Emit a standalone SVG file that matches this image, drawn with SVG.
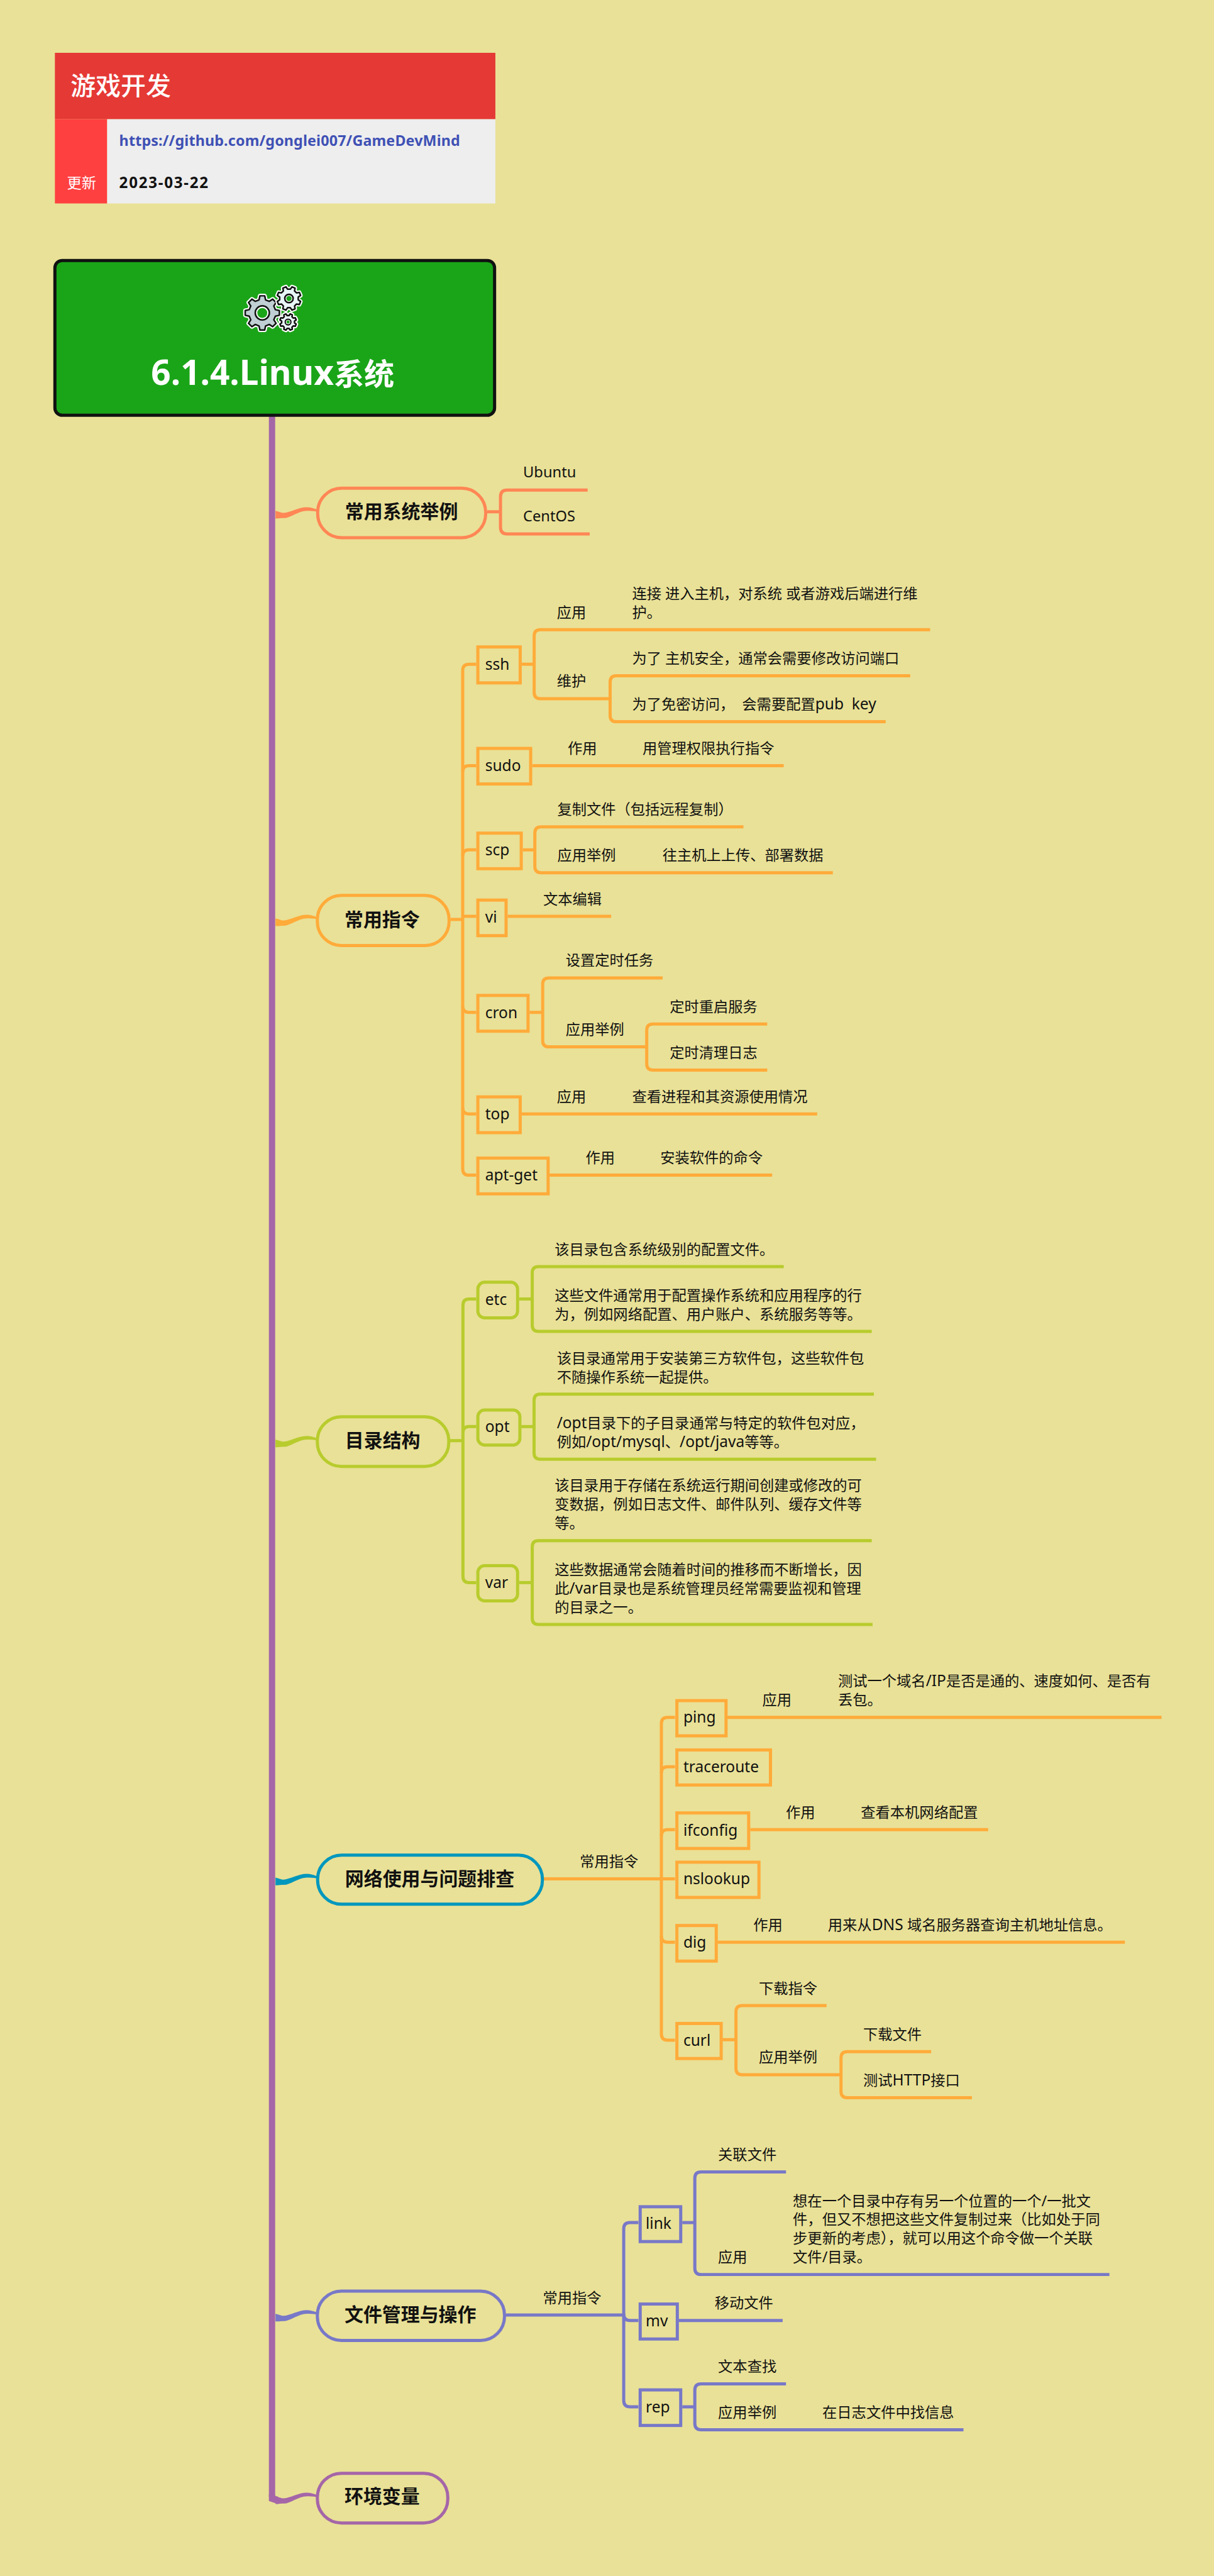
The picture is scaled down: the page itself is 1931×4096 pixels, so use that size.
<svg xmlns="http://www.w3.org/2000/svg" xmlns:xlink="http://www.w3.org/1999/xlink" width="1931" height="4096" viewBox="0 0 1931 4096">
<style>
text{font-family:"Noto Sans","Noto Sans CJK SC",sans-serif;white-space:pre}
.t{font-size:28px;fill:#111}
.k{font-size:29.5px;fill:#111}
.lat{font-size:29.5px}
.h{font-size:36px;font-weight:700;fill:#111}
.l{fill:none;stroke-width:6}
.box{fill:none;stroke-width:6}
.pill{fill:none;stroke-width:6}
.c1{stroke:#FF8655}.c2{stroke:#FFAB3A}.c3{stroke:#B8CC2D}.c4{stroke:#0097BD}.c5{stroke:#7878C8}.c6{stroke:#A566A8}
.f1{fill:#FF8655}.f2{fill:#FFAB3A}.f3{fill:#B8CC2D}.f4{fill:#0097BD}.f5{fill:#7878C8}.f6{fill:#A566A8}
.halo{fill:#fff;stroke:#fff;stroke-linejoin:round}
.gear{stroke:#111;stroke-linejoin:round}
</style>
<defs>
<path id="wave" d="M0,3C6,4.5 12,7.5 16,7C28,6 44,-4 60,-4C66,-4 72,-2 78,0L78,4.3C72,3 66,3 60,3C44,3 28,17 16,17C10,17 6,18 0,17.7Z"/>
<path id="cog" d="M75.7,-18.9L99,-13.9L99,13.9L75.7,18.9L66.9,40.2L79.9,60.2L60.2,79.9L40.2,66.9L18.9,75.7L13.9,99L-13.9,99L-18.9,75.7L-40.2,66.9L-60.2,79.9L-79.9,60.2L-66.9,40.2L-75.7,18.9L-99,13.9L-99,-13.9L-75.7,-18.9L-66.9,-40.2L-79.9,-60.2L-60.2,-79.9L-40.2,-66.9L-18.9,-75.7L-13.9,-99L13.9,-99L18.9,-75.7L40.2,-66.9L60.2,-79.9L79.9,-60.2L66.9,-40.2Z"/>
</defs>
<rect width="1931" height="4096" fill="#E9E197"/>
<g transform="scale(0.8316)">

<g id="header">
<rect x="105" y="101" width="842.5" height="127" fill="#E53935"/>
<rect x="105" y="228" width="100" height="161" fill="#FF4040"/>
<rect x="205" y="228" width="742.5" height="161" fill="#EEEEEE"/>
<text x="135" y="182" font-size="48" font-weight="500" fill="#fff">游戏开发</text>
<text x="228" y="279" font-size="28" font-weight="700" fill="#3F51B5" textLength="652">https://github.com/gonglei007/GameDevMind</text>
<text x="128" y="359" font-size="28" fill="#fff">更新</text>
<text x="228" y="359" font-size="29" font-weight="700" fill="#111" textLength="170">2023-03-22</text>
</g>

<g id="connectors">
<rect x="514.3" y="794" width="12" height="3980" class="f6"/>
<path class="f6" d="M514.3,4770H526.3V4772L532,4774L532,4788L514.3,4782Z"/>
<use xlink:href="#wave" x="527" y="973.7" class="f1"/>
<use xlink:href="#wave" x="527" y="1753" class="f2"/>
<use xlink:href="#wave" x="527" y="2749.5" class="f3"/>
<use xlink:href="#wave" x="527" y="3587" class="f4"/>
<use xlink:href="#wave" x="527" y="4421" class="f5"/>
<use xlink:href="#wave" x="527" y="4770" class="f6"/>

<path class="l c1" d="M932,978.5H957.3M1124,937H970Q957.3,937 957.3,949.7V1008Q957.3,1021 970,1021H1128"/>

<g class="l c2">
<path d="M862,1758H885"/>
<path d="M911,1270H897Q885,1270 885,1282V2235Q885,2247 897,2247H911"/>
<path d="M911,1464H897Q885,1464 885,1476"/>
<path d="M911,1625H897Q885,1625 885,1637"/>
<path d="M885,1752H911"/>
<path d="M911,1935.7H897Q885,1935.7 885,1923.7"/>
<path d="M911,2130H897Q885,2130 885,2118"/>
<path d="M998,1270H1021.7"/>
<path d="M1779,1204H1033.7Q1021.7,1204 1021.7,1216V1324Q1021.7,1336 1033.7,1336H1167"/>
<path d="M1741,1292H1179Q1167,1292 1167,1304V1368Q1167,1380 1179,1380H1694"/>
<path d="M1018,1464H1499"/>
<path d="M1000,1625H1023"/>
<path d="M1422,1581H1035Q1023,1581 1023,1593V1656.7Q1023,1668.7 1035,1668.7H1593"/>
<path d="M971,1752H1169"/>
<path d="M1013,1935.7H1038"/>
<path d="M1267.5,1870H1050Q1038,1870 1038,1882V1989.7Q1038,2001.7 1050,2001.7H1237"/>
<path d="M1467.5,1958H1249Q1237,1958 1237,1970V2034Q1237,2046 1249,2046H1467.5"/>
<path d="M998,2130H1563"/>
<path d="M1051,2247H1477"/>
</g>

<g class="l c3">
<path d="M861,2754.6H885.5"/>
<path d="M911,2483.7H897.5Q885.5,2483.7 885.5,2495.7V3014Q885.5,3026 897.5,3026H911"/>
<path d="M911,2727.7H897.5Q885.5,2727.7 885.5,2739.7"/>
<path d="M993,2483.7H1018"/>
<path d="M1499,2421.7H1030Q1018,2421.7 1018,2433.7V2533.7Q1018,2545.7 1030,2545.7H1667.4"/>
<path d="M997,2727.7H1021.5"/>
<path d="M1671.5,2665.7H1033.5Q1021.5,2665.7 1021.5,2677.7V2778Q1021.5,2790 1033.5,2790H1675.7"/>
<path d="M993,3026H1018"/>
<path d="M1667.4,2945.8H1030Q1018,2945.8 1018,2957.8V3094Q1018,3106 1030,3106H1669"/>
</g>

<g class="l c2">
<path d="M1040,3592.6H1291"/>
<path d="M1291,3283.8H1277Q1265,3283.8 1265,3295.8V3889Q1265,3901 1277,3901H1291"/>
<path d="M1291,3378H1277Q1265,3378 1265,3390"/>
<path d="M1291,3498.5H1277Q1265,3498.5 1265,3510.5"/>
<path d="M1291,3713.7H1277Q1265,3713.7 1265,3701.7"/>
<path d="M1391,3283.8H2221.7"/>
<path d="M1435,3498.5H1890"/>
<path d="M1373,3713.7H2151.6"/>
<path d="M1382,3900H1407.7"/>
<path d="M1581,3834.8H1419.7Q1407.7,3834.8 1407.7,3846.8V3955Q1407.7,3967 1419.7,3967H1608.6"/>
<path d="M1781,3923H1620.6Q1608.6,3923 1608.6,3935V3999Q1608.6,4011 1620.6,4011H1859"/>
</g>

<g class="l c5">
<path d="M968,4426.5H1193"/>
<path d="M1221,4249.7H1205Q1193,4249.7 1193,4261.7V4590Q1193,4602 1205,4602H1221"/>
<path d="M1193,4424Q1193,4437 1205,4437H1221"/>
<path d="M1305,4249.7H1329"/>
<path d="M1503.4,4152.7H1341Q1329,4152.7 1329,4164.7V4337Q1329,4349 1341,4349H2122"/>
<path d="M1298,4436.9H1497"/>
<path d="M1305,4602H1329"/>
<path d="M1503.4,4558H1341Q1329,4558 1329,4570V4633.8Q1329,4645.8 1341,4645.8H1842.8"/>
</g>
</g>

<g id="root">
<rect x="105" y="498" width="841" height="296" rx="14" fill="#1AA518" stroke="#111" stroke-width="6"/>
<g>
<use xlink:href="#cog" transform="translate(501.7,598.3) scale(.33)" class="halo" stroke-width="24"/>
<use xlink:href="#cog" transform="translate(501.7,598.3) scale(.33)" class="gear" fill="#C0CFD3" stroke-width="9"/>
<circle cx="501.7" cy="598.3" r="13.5" fill="#fff" stroke="#111" stroke-width="3"/>
<circle cx="501.7" cy="598.3" r="9.5" fill="#1AA518"/>
<use xlink:href="#cog" transform="translate(552.7,570.7) rotate(22.5) scale(.23)" class="halo" stroke-width="34"/>
<use xlink:href="#cog" transform="translate(552.7,570.7) rotate(22.5) scale(.23)" class="gear" fill="#E9F5F7" stroke-width="13"/>
<circle cx="552.7" cy="570.7" r="8" fill="#fff" stroke="#111" stroke-width="3"/>
<circle cx="552.7" cy="570.7" r="5" fill="#1AA518"/>
<use xlink:href="#cog" transform="translate(551,615.7) rotate(22.5) scale(.16)" class="halo" stroke-width="50"/>
<use xlink:href="#cog" transform="translate(551,615.7) rotate(22.5) scale(.16)" class="gear" fill="#E9F5F7" stroke-width="19"/>
<circle cx="551" cy="615.7" r="5.5" fill="#fff" stroke="#111" stroke-width="2.5"/>
<circle cx="551" cy="615.7" r="3" fill="#1AA518"/>
</g>
<text x="289" y="736" font-size="66" font-weight="700" fill="#fff">6.1.4.Linux<tspan font-size="58">系统</tspan></text>
</g>

<g id="b1">
<rect class="pill c1" x="607.6" y="933.5" width="321.4" height="94.5" rx="46"/>
<text class="h" x="660" y="991">常用系统举例</text>
</g>
<g id="b1-ubuntu"><text class="t" x="1000.5" y="913" font-size="28.5" style="font-size:28.5px">Ubuntu</text></g>
<g id="b1-centos"><text class="t" x="1000.5" y="996.7" style="font-size:28.5px">CentOS</text></g>

<g id="b2">
<rect class="pill c2" x="607" y="1712" width="252" height="96" rx="46"/>
<text class="h" x="659" y="1771">常用指令</text>
</g>

<g id="ssh"><rect class="box c2" x="914" y="1237" width="81" height="68.7"/><text class="k" x="928" y="1280.5">ssh</text></g>
<g id="ssh-a"><text class="t" x="1065" y="1181">应用</text></g>
<g id="ssh-a1"><text class="t" x="1209" y="1145">连接 进入主机，对系统 或者游戏后端进行维<tspan x="1209" dy="36">护。</tspan></text></g>
<g id="ssh-b"><text class="t" x="1065" y="1312">维护</text></g>
<g id="ssh-b1"><text class="t" x="1209" y="1269">为了 主机安全，通常会需要修改访问端口</text></g>
<g id="ssh-b2"><text class="t" x="1209" y="1357">为了免密访问，  会需要配置<tspan class="lat">pub  key</tspan></text></g>

<g id="sudo"><rect class="box c2" x="914" y="1431" width="101" height="68"/><text class="k" x="928" y="1474">sudo</text></g>
<g id="sudo-a"><text class="t" x="1086" y="1440">作用</text></g>
<g id="sudo-a1"><text class="t" x="1229" y="1440">用管理权限执行指令</text></g>

<g id="scp"><rect class="box c2" x="914" y="1593" width="83" height="68"/><text class="k" x="928" y="1636">scp</text></g>
<g id="scp-a"><text class="t" x="1066" y="1557">复制文件（包括远程复制）</text></g>
<g id="scp-b"><text class="t" x="1066" y="1645.5">应用举例</text></g>
<g id="scp-b1"><text class="t" x="1267" y="1645.5">往主机上上传、部署数据</text></g>

<g id="vi"><rect class="box c2" x="914" y="1721" width="54" height="68"/><text class="k" x="928" y="1764">vi</text></g>
<g id="vi-a"><text class="t" x="1039" y="1729">文本编辑</text></g>

<g id="cron"><rect class="box c2" x="914" y="1903.3" width="96" height="68.4"/><text class="k" x="928" y="1946.5">cron</text></g>
<g id="cron-a"><text class="t" x="1082" y="1846">设置定时任务</text></g>
<g id="cron-b"><text class="t" x="1082" y="1978.3">应用举例</text></g>
<g id="cron-b1"><text class="t" x="1281" y="1934.3">定时重启服务</text></g>
<g id="cron-b2"><text class="t" x="1281" y="2022.3">定时清理日志</text></g>

<g id="top"><rect class="box c2" x="914" y="2097.3" width="81" height="68.4"/><text class="k" x="928" y="2140.5">top</text></g>
<g id="top-a"><text class="t" x="1065" y="2106.3">应用</text></g>
<g id="top-a1"><text class="t" x="1209" y="2106.3">查看进程和其资源使用情况</text></g>

<g id="apt-get"><rect class="box c2" x="914" y="2214.3" width="134.4" height="68.4"/><text class="k" x="928" y="2257.5">apt-get</text></g>
<g id="apt-a"><text class="t" x="1120" y="2223.3">作用</text></g>
<g id="apt-a1"><text class="t" x="1263" y="2223.3">安装软件的命令</text></g>

<g id="b3">
<rect class="pill c3" x="607" y="2709" width="251.4" height="95" rx="46"/>
<text class="h" x="660" y="2767">目录结构</text>
</g>
<g id="etc"><rect class="box c3" x="914" y="2451.7" width="76" height="68" rx="13"/><text class="k" x="928" y="2495">etc</text></g>
<g id="etc-1"><text class="t" x="1061" y="2399">该目录包含系统级别的配置文件。</text></g>
<g id="etc-2"><text class="t" x="1061" y="2487">这些文件通常用于配置操作系统和应用程序的行<tspan x="1061" dy="36">为，例如网络配置、用户账户、系统服务等等。</tspan></text></g>
<g id="opt"><rect class="box c3" x="914" y="2696" width="80.4" height="67" rx="13"/><text class="k" x="928" y="2738.5">opt</text></g>
<g id="opt-1"><text class="t" x="1065" y="2607">该目录通常用于安装第三方软件包，这些软件包<tspan x="1065" dy="36">不随操作系统一起提供。</tspan></text></g>
<g id="opt-2"><text class="t" x="1065" y="2731"><tspan class="lat">/opt</tspan>目录下的子目录通常与特定的软件包对应，<tspan x="1065" dy="36">例如</tspan><tspan class="lat">/opt/mysql</tspan>、<tspan class="lat">/opt/java</tspan>等等。</text></g>
<g id="var"><rect class="box c3" x="914" y="2993.6" width="76" height="67.4" rx="13"/><text class="k" x="928" y="3036">var</text></g>
<g id="var-1"><text class="t" x="1061" y="2850">该目录用于存储在系统运行期间创建或修改的可<tspan x="1061" dy="36">变数据，例如日志文件、邮件队列、缓存文件等</tspan><tspan x="1061" dy="36">等。</tspan></text></g>
<g id="var-2"><text class="t" x="1061" y="3011">这些数据通常会随着时间的推移而不断增长，因<tspan x="1061" dy="36">此</tspan><tspan class="lat">/var</tspan>目录也是系统管理员经常需要监视和管理<tspan x="1061" dy="36">的目录之一。</tspan></text></g>

<g id="b4">
<rect class="pill c4" x="607.5" y="3547" width="430" height="94" rx="46"/>
<text class="h" x="660" y="3605">网络使用与问题排查</text>
</g>
<g id="b4-a"><text class="t" x="1109" y="3569">常用指令</text></g>
<g id="ping"><rect class="box c2" x="1294.7" y="3251.7" width="94" height="67.3"/><text class="k" x="1307" y="3294">ping</text></g>
<g id="ping-a"><text class="t" x="1458" y="3260.5">应用</text></g>
<g id="ping-a1"><text class="t" x="1603" y="3224">测试一个域名<tspan class="lat">/IP</tspan>是否是通的、速度如何、是否有<tspan x="1603" dy="36">丢包。</tspan></text></g>
<g id="traceroute"><rect class="box c2" x="1294.7" y="3346" width="179" height="67"/><text class="k" x="1307" y="3388.5">traceroute</text></g>
<g id="ifconfig"><rect class="box c2" x="1294.7" y="3466.4" width="137.3" height="68"/><text class="k" x="1307" y="3509.5">ifconfig</text></g>
<g id="ifconfig-a"><text class="t" x="1503" y="3475">作用</text></g>
<g id="ifconfig-a1"><text class="t" x="1646.6" y="3475">查看本机网络配置</text></g>
<g id="nslookup"><rect class="box c2" x="1294.7" y="3560.6" width="157" height="67.4"/><text class="k" x="1307" y="3603">nslookup</text></g>
<g id="dig"><rect class="box c2" x="1294.7" y="3681.7" width="75.3" height="68"/><text class="k" x="1307" y="3724.7">dig</text></g>
<g id="dig-a"><text class="t" x="1441" y="3690.4">作用</text></g>
<g id="dig-a1"><text class="t" x="1583.5" y="3690.4">用来从<tspan class="lat">DNS </tspan>域名服务器查询主机地址信息。</text></g>
<g id="curl"><rect class="box c2" x="1294.7" y="3869" width="84.7" height="67"/><text class="k" x="1307" y="3911.5">curl</text></g>
<g id="curl-a"><text class="t" x="1451.5" y="3811.5">下载指令</text></g>
<g id="curl-b"><text class="t" x="1451.5" y="3943.6">应用举例</text></g>
<g id="curl-b1"><text class="t" x="1651" y="3899.4">下载文件</text></g>
<g id="curl-b2"><text class="t" x="1651" y="3987.8">测试<tspan class="lat">HTTP</tspan>接口</text></g>

<g id="b5">
<rect class="pill c5" x="607" y="4380.7" width="358" height="94.3" rx="46"/>
<text class="h" x="659" y="4438.5">文件管理与操作</text>
</g>
<g id="b5-a"><text class="t" x="1038.4" y="4403">常用指令</text></g>
<g id="link"><rect class="box c5" x="1224.5" y="4219.4" width="77.5" height="66.6"/><text class="k" x="1235" y="4261.7">link</text></g>
<g id="link-a"><text class="t" x="1373.4" y="4129.4">关联文件</text></g>
<g id="link-b"><text class="t" x="1373.4" y="4325.7">应用</text></g>
<g id="link-b1"><text class="t" x="1516.5" y="4217.8">想在一个目录中存有另一个位置的一个/一批文<tspan x="1516.5" dy="36">件，但又不想把这些文件复制过来（比如处于同</tspan><tspan x="1516.5" dy="36">步更新的考虑），就可以用这个命令做一个关联</tspan><tspan x="1516.5" dy="36">文件/目录。</tspan></text></g>
<g id="mv"><rect class="box c5" x="1224.5" y="4405.4" width="71" height="66.9"/><text class="k" x="1235" y="4448">mv</text></g>
<g id="mv-a"><text class="t" x="1367" y="4413.6">移动文件</text></g>
<g id="rep"><rect class="box c5" x="1224.5" y="4569.6" width="77.5" height="68"/><text class="k" x="1235" y="4612.6">rep</text></g>
<g id="rep-a"><text class="t" x="1373.4" y="4534.7">文本查找</text></g>
<g id="rep-b"><text class="t" x="1373.4" y="4622.5">应用举例</text></g>
<g id="rep-b1"><text class="t" x="1573" y="4622.5">在日志文件中找信息</text></g>

<g id="b6">
<rect class="pill c6" x="607" y="4729" width="249.5" height="95" rx="46"/>
<text class="h" x="659" y="4786">环境变量</text>
</g>
</g>
</svg>
